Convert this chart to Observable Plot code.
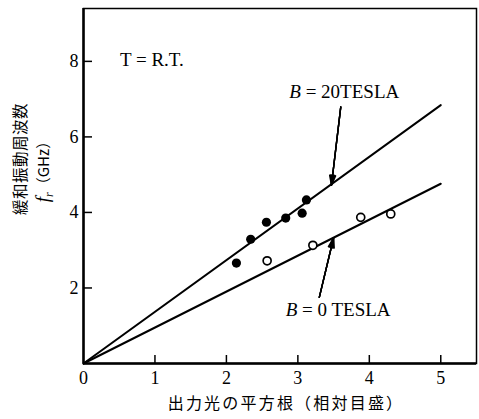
<!DOCTYPE html>
<html><head><meta charset="utf-8">
<script src="https://cdn.jsdelivr.net/npm/d3@7"></script>
<script src="https://cdn.jsdelivr.net/npm/@observablehq/plot@0.6"></script>
<style>body{margin:0;background:#fff}</style>
</head><body><div id="chart"></div>
<script>
// ---- data ----
const xTicks = [0, 1, 2, 3, 4, 5];
const yTicks = [2, 4, 6, 8];
const b20X = [2.14, 2.34, 2.56, 2.83, 3.06, 3.12];
const b20Y = [2.66, 3.29, 3.74, 3.85, 3.98, 4.33];
const b0X = [2.57, 3.21, 3.88, 4.30];
const b0Y = [2.72, 3.13, 3.87, 3.96];
const fitX = [0, 5];
const fitB20 = [0, 6.84];
const fitB0 = [0, 4.76];
const arrowX1 = [3.60, 3.30];
const arrowY1 = [6.79, 1.75];
const arrowX2 = [3.47, 3.50];
const arrowY2 = [4.72, 3.33];
const annoText = ["T = R.T.", "B = 20TESLA", "B = 0 TESLA"];
const annoX = [0.51, 2.88, 2.83];
const annoY = [8.03, 7.19, 1.42];
const xLabel = "出力光の平方根（相対目盛）";
const yLabel1 = "緩和振動周波数";
const yLabel2 = "f";

const pts20 = b20X.map((x, i) => ({x, y: b20Y[i]}));
const pts0 = b0X.map((x, i) => ({x, y: b0Y[i]}));
const line20 = fitX.map((x, i) => ({x, y: fitB20[i]}));
const line0 = fitX.map((x, i) => ({x, y: fitB0[i]}));
const arrows = arrowX1.map((x1, i) => ({x1, y1: arrowY1[i], x2: arrowX2[i], y2: arrowY2[i]}));
const anno = annoText.map((t, i) => ({t, x: annoX[i], y: annoY[i]}));

const W = 479, H = 419, ML = 83, MR = 3, MT = 8, MB = 56;
const frameW = W - ML - MR, frameH = H - MT - MB;
const serifName = "Liberation Serif";
const serifCss = '"Liberation Serif", "DejaVu Serif", serif';
const cjkName = "Noto Sans CJK JP";
const cjkCss = '"Noto Sans CJK JP", sans-serif';

const arrowMarks = [34, 24, 14, 6].map(a =>
  Plot.arrow(arrows, {x1: "x1", y1: "y1", x2: "x2", y2: "y2", stroke: "black", strokeWidth: 1.4, headLength: 11, headAngle: a}));

const chart = Plot.plot({
  width: W, height: H,
  marginLeft: ML, marginRight: MR, marginTop: MT, marginBottom: MB,
  x: {domain: [0, 5.5], label: null},
  y: {domain: [0, 9.4], label: null},
  style: {fontSize: "17px", background: "white", color: "black"},
  marks: [
    Plot.frame({strokeWidth: 1.5}),
    Plot.ruleX([0], {strokeWidth: 2.5}),
    Plot.ruleY([0], {strokeWidth: 2.5}),
    Plot.tickX(xTicks.slice(1), {x: d => d, insetTop: frameH - 8, stroke: "black", strokeWidth: 1.5}),
    Plot.tickY(yTicks, {y: d => d, insetRight: frameW - 9, stroke: "black", strokeWidth: 1.5}),
    Plot.axisX({ticks: xTicks, tickSize: 0, tickPadding: 8, tickFormat: d => String(d), label: null, fontSize: 18, fontFamily: serifName}),
    Plot.axisY({ticks: yTicks, tickSize: 0, tickPadding: 5, tickFormat: d => String(d), label: null, fontSize: 18, fontFamily: serifName}),
    Plot.line(line20, {x: "x", y: "y", stroke: "black", strokeWidth: 2}),
    Plot.line(line0, {x: "x", y: "y", stroke: "black", strokeWidth: 2}),
    ...arrowMarks,
    Plot.dot(pts20, {x: "x", y: "y", r: 4.6, fill: "black", stroke: "none"}),
    Plot.dot(pts0, {x: "x", y: "y", r: 4, fill: "white", stroke: "black", strokeWidth: 1.7}),
    Plot.text(anno, {x: "x", y: "y", text: "t", textAnchor: "start", fontSize: 19, fontFamily: serifName, className: "anno"}),
    Plot.text([xLabel], {frameAnchor: "bottom", textAnchor: "middle", dx: 6, dy: 45, fontSize: 16, fontFamily: cjkName, className: "xlab"}),
    Plot.text([yLabel1], {frameAnchor: "left", fontSize: 15.5, fontFamily: cjkName, className: "ylab1"}),
    Plot.text([yLabel2], {frameAnchor: "left", fontSize: 19, fontFamily: serifName, className: "ylab2"})
  ]
});
document.getElementById("chart").appendChild(chart);

const svg = d3.select(chart);
svg.attr("font-family", serifName).style("font-family", serifCss);
// fonts set directly on every text element (attribute + inline style)
svg.selectAll("text").attr("font-family", serifName).style("font-family", serifCss);
svg.selectAll("g.xlab text, g.ylab1 text").attr("font-family", cjkName).style("font-family", cjkCss);
svg.select("g.xlab text").attr("letter-spacing", "2.2");
svg.select("g.ylab1 text").attr("letter-spacing", "0.5");

svg.selectAll("g.anno text").each(function() {
  const t = d3.select(this);
  const s = t.text();
  if (s.startsWith("B")) {
    t.text(null);
    t.append("tspan").attr("font-style", "italic").text("B");
    t.append("tspan").text(s.slice(1));
  }
});
svg.selectAll("g.ylab2 text").each(function() {
  const t = d3.select(this);
  t.text(null);
  t.append("tspan").attr("font-style", "italic").text("f");
  t.append("tspan").attr("font-style", "italic").attr("font-size", "12").attr("dy", "4").text("r");
  t.append("tspan").attr("dy", "-4").style("font-family", cjkCss).attr("font-size", "15").text("（GHz）");
});
// place the rotated y-axis title lines
function placeRotated(sel, cx, cy) {
  svg.select(sel).attr("transform", null);
  svg.selectAll(sel + " text")
    .attr("x", null).attr("y", null).attr("dy", "0.35em")
    .attr("text-anchor", "middle")
    .attr("transform", `translate(${cx},${cy}) rotate(-90)`);
}
placeRotated("g.ylab1", 21, 159);
placeRotated("g.ylab2", 42, 168);
</script>
</body></html>
